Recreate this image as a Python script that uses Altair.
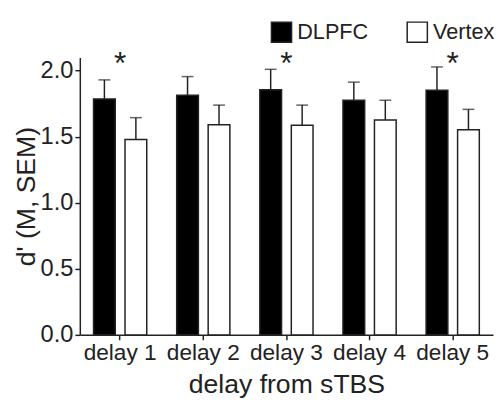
import altair as alt
import pandas as pd

delays = ["delay 1", "delay 2", "delay 3", "delay 4", "delay 5"]
groups = ["DLPFC", "Vertex"]
dlpfc_mean = [1.786, 1.813, 1.856, 1.776, 1.851]
dlpfc_sem = [0.144, 0.142, 0.154, 0.137, 0.177]
vertex_mean = [1.478, 1.590, 1.587, 1.627, 1.552]
vertex_sem = [0.166, 0.149, 0.152, 0.149, 0.155]
significant = [True, False, True, False, True]
star_level = 2.09

rows = []
for i, d in enumerate(delays):
    rows.append({"delay": d, "site": "DLPFC", "mean": dlpfc_mean[i], "top": dlpfc_mean[i] + dlpfc_sem[i]})
    rows.append({"delay": d, "site": "Vertex", "mean": vertex_mean[i], "top": vertex_mean[i] + vertex_sem[i]})
df = pd.DataFrame(rows)
stars = pd.DataFrame({"delay": [d for d, s in zip(delays, significant) if s], "y": star_level, "label": "*"})

FONT = "Liberation Sans"
INK = "#222222"

x_enc = alt.X("delay:N", sort=delays,
              scale=alt.Scale(paddingInner=0.36, paddingOuter=0.165),
              axis=alt.Axis(title="delay from sTBS", labelAngle=0))
xo_enc = alt.XOffset("site:N", sort=groups, scale=alt.Scale(paddingInner=0.31, paddingOuter=0))
y_scale = alt.Scale(domain=[0, 2.1], nice=False)

base = alt.Chart(df)

bars = base.mark_bar(stroke=INK, strokeWidth=1.5).encode(
    x=x_enc,
    xOffset=xo_enc,
    y=alt.Y("mean:Q", scale=y_scale,
            axis=alt.Axis(title="d' (M, SEM)", values=[0, 0.5, 1.0, 1.5, 2.0], format=".1f")),
    fill=alt.Fill("site:N", sort=groups,
                  scale=alt.Scale(domain=groups, range=["#000000", "#ffffff"]),
                  legend=alt.Legend(title=None, orient="none", direction="horizontal",
                                    legendX=194, legendY=-37, symbolType="square",
                                    symbolSize=420, symbolStrokeColor=INK,
                                    symbolStrokeWidth=1.5, labelFontSize=22,
                                    labelFont=FONT, labelColor=INK, labelOffset=5,
                                    columnPadding=35, labelLimit=200)),
)

err = base.mark_rule(color=INK, strokeWidth=1.5).encode(
    x=x_enc, xOffset=xo_enc, y="mean:Q", y2="top:Q"
)
caps = base.mark_tick(color=INK, thickness=1.5, size=12, orient="horizontal").encode(
    x=x_enc, xOffset=xo_enc, y="top:Q"
)

star_marks = alt.Chart(stars).mark_text(fontSize=32, font=FONT, color=INK, baseline="middle", dy=6).encode(
    x=alt.X("delay:N", sort=delays), y="y:Q", text="label:N"
)

chart = alt.layer(bars, err, caps, star_marks).properties(
    width=420, height=282,
    autosize=alt.AutoSizeParams(type="none"),
    padding={"left": 73, "top": 47, "right": 2, "bottom": 65},
).configure_view(stroke=None).configure_axis(
    grid=False, domainColor=INK, domainWidth=1.5, tickColor=INK, tickWidth=1.5,
    tickSize=5, labelFont=FONT, labelColor=INK,
    titleFont=FONT, titleFontSize=27, titleFontWeight="normal", titleColor=INK,
    labelPadding=2,
).configure_axisY(titlePadding=0, labelFontSize=24).configure_axisX(titlePadding=8, labelFontSize=23)

chart.save("out.html", embed_options={"renderer": "svg", "actions": False})
